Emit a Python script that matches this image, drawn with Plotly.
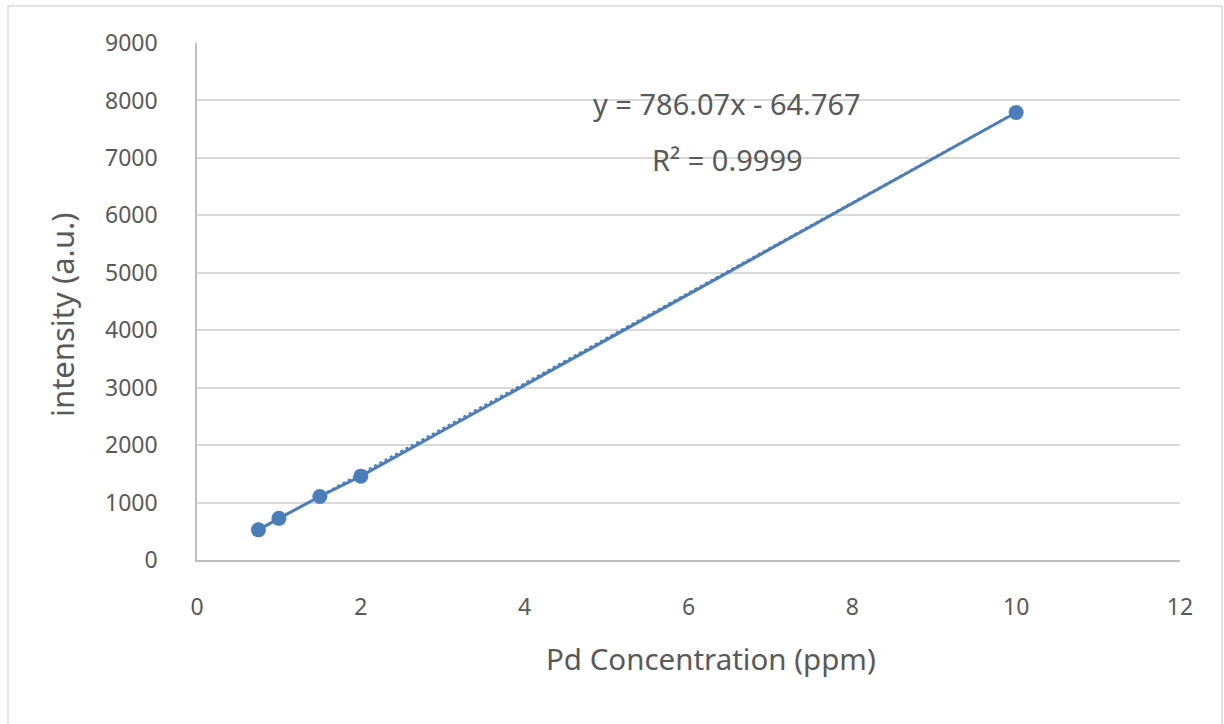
import plotly.graph_objects as go

conc_ppm = [0.75, 1.0, 1.5, 2.0, 10.0]
intensity = [525, 725, 1105, 1460, 7790]
slope = 786.07
intercept = -64.767
r_squared = 0.9999
x_ticks = [0, 2, 4, 6, 8, 10, 12]
y_ticks = [0, 1000, 2000, 3000, 4000, 5000, 6000, 7000, 8000, 9000]

color = "#4a7ebb"
font_family = "Noto Sans, Open Sans, sans-serif"
gray = "#595959"

trend_x = [min(conc_ppm), max(conc_ppm)]
trend_y = [slope * v + intercept for v in trend_x]

fig = go.Figure()
fig.add_trace(go.Scatter(x=trend_x, y=trend_y, mode="lines",
                         line=dict(color=color, width=2, dash="dot"),
                         hoverinfo="skip", showlegend=False))
fig.add_trace(go.Scatter(x=conc_ppm, y=intensity, mode="lines+markers",
                         line=dict(color=color, width=3),
                         marker=dict(color=color, size=15),
                         showlegend=False))

W, H = 1224, 724
L, R, T, B = 197, 44, 43, 164
pw, ph = W - L - R, H - T - B

def px_x(p):
    return (p - L) / pw

def px_y(p):
    return (H - B - p) / ph

fig.add_shape(type="rect", xref="paper", yref="paper",
              x0=px_x(8), x1=px_x(1222), y0=px_y(740), y1=px_y(6),
              line=dict(color="#d9d9d9", width=1.5), layer="below")

def label(text, x, y, size, angle=0):
    fig.add_annotation(x=px_x(x), y=px_y(y), xref="paper", yref="paper",
                       xanchor="center", yanchor="middle", textangle=angle,
                       text=text, showarrow=False,
                       font=dict(size=size, color=gray, family=font_family))

label(f"y = {slope}x - {abs(intercept)}", 727, 103, 29)
label(f"R² = {r_squared}", 727, 159, 29)
label("Pd Concentration (ppm)", 711, 658, 29.5)
label("intensity (a.u.)", 62, 315, 31, angle=-90)

fig.update_layout(
    width=W, height=H,
    margin=dict(l=L, r=R, t=T, b=B, autoexpand=False),
    paper_bgcolor="white", plot_bgcolor="white",
    font=dict(family=font_family, color=gray),
    xaxis=dict(range=[0, 12], tickvals=x_ticks, showgrid=False,
               showline=True, linecolor="#bfbfbf", linewidth=1.5,
               zeroline=False, ticks="", ticklabelstandoff=26,
               tickfont=dict(size=23, color=gray)),
    yaxis=dict(range=[0, 9000], tickvals=y_ticks, showgrid=True,
               gridcolor="#d9d9d9", gridwidth=1.5,
               showline=True, linecolor="#bfbfbf", linewidth=1.5,
               zeroline=False, ticks="", ticklabelstandoff=33,
               tickfont=dict(size=23, color=gray)),
)

fig.write_html("out.html")
